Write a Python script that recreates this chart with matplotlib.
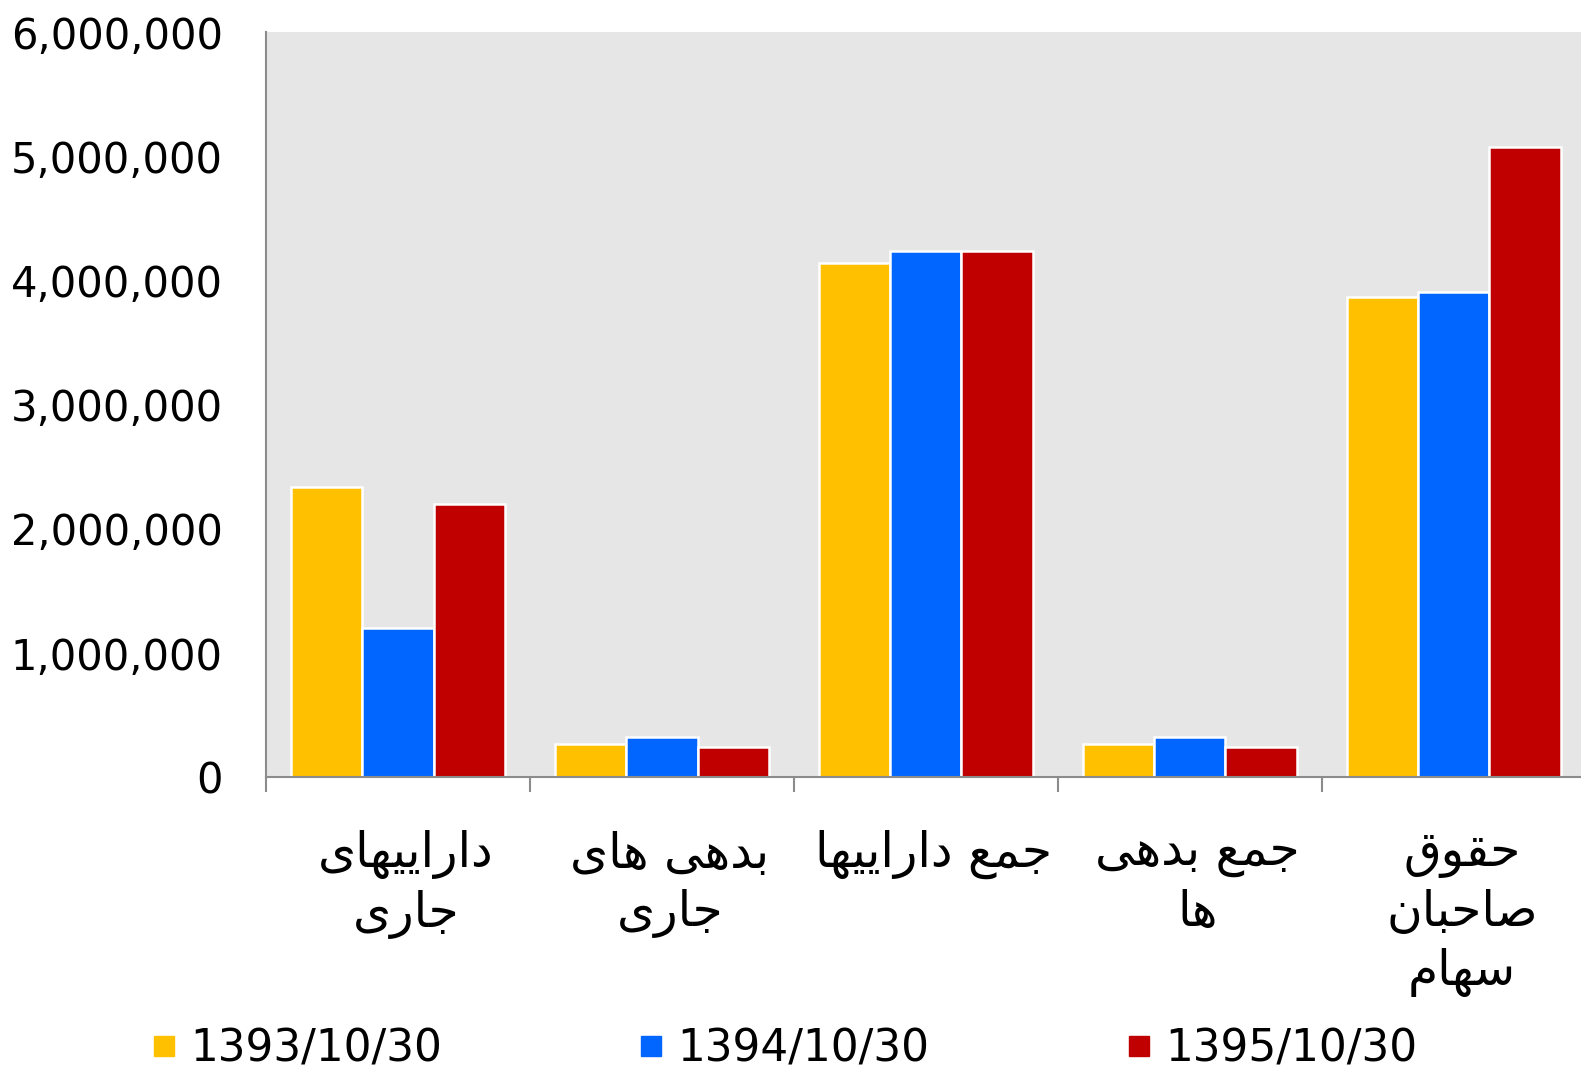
import matplotlib
matplotlib.use("Agg")
import matplotlib.pyplot as plt
from matplotlib.lines import Line2D
from matplotlib.ticker import FuncFormatter
from matplotlib.transforms import ScaledTranslation

# Data
categories = ["داراییهای\nجاری", "بدهی های\nجاری", "جمع داراییها", "جمع بدهی\nها", "حقوق\nصاحبان\nسهام"]
series_names = ["1393/10/30", "1394/10/30", "1395/10/30"]
v1393 = [2335000, 267000, 4138000, 267000, 3870000]
v1394 = [1205000, 324000, 4237000, 324000, 3905000]
v1395 = [2200000, 242000, 4237000, 242000, 5073000]
colors = ["#FFC000", "#0066FF", "#C00000"]

# minimal Arabic/Persian shaping (matplotlib draws glyphs left to right, no joining)
FORMS = {
    'ا': ('\uFE8D', '\uFE8E', None, None),
    'ب': ('\uFE8F', '\uFE90', '\uFE91', '\uFE92'),
    'ج': ('\uFE9D', '\uFE9E', '\uFE9F', '\uFEA0'),
    'ح': ('\uFEA1', '\uFEA2', '\uFEA3', '\uFEA4'),
    'د': ('\uFEA9', '\uFEAA', None, None),
    'ر': ('\uFEAD', '\uFEAE', None, None),
    'س': ('\uFEB1', '\uFEB2', '\uFEB3', '\uFEB4'),
    'ص': ('\uFEB9', '\uFEBA', '\uFEBB', '\uFEBC'),
    'ع': ('\uFEC9', '\uFECA', '\uFECB', '\uFECC'),
    'ق': ('\uFED5', '\uFED6', '\uFED7', '\uFED8'),
    'م': ('\uFEE1', '\uFEE2', '\uFEE3', '\uFEE4'),
    'ن': ('\uFEE5', '\uFEE6', '\uFEE7', '\uFEE8'),
    'ه': ('\uFEE9', '\uFEEA', '\uFEEB', '\uFEEC'),
    'و': ('\uFEED', '\uFEEE', None, None),
    'ی': ('\uFBFC', '\uFBFD', '\uFBFE', '\uFBFF'),
}


def shape_line(line):
    out = []
    for i, c in enumerate(line):
        if c not in FORMS:
            out.append(c)
            continue
        prev = line[i - 1] if i > 0 else ''
        nxt = line[i + 1] if i + 1 < len(line) else ''
        jp = prev in FORMS and FORMS[prev][2] is not None
        jn = FORMS[c][2] is not None and nxt in FORMS
        iso, fin, ini, med = FORMS[c]
        if jp and jn:
            out.append(med)
        elif jp:
            out.append(fin)
        elif jn:
            out.append(ini)
        else:
            out.append(iso)
    return ''.join(reversed(out))


def shape(text):
    return "\n".join(shape_line(l) for l in text.split("\n"))


plt.rcParams['font.family'] = ['DejaVu Sans']

fig = plt.figure(figsize=(15.81, 10.74), dpi=100)
ax = fig.add_axes([0.1682, 0.2763, 0.8348, 0.6937])
ax.set_facecolor("#E6E6E6")

x = list(range(len(categories)))
w = 0.27
for k, (vals, col, name) in enumerate(zip([v1393, v1394, v1395], colors, series_names)):
    ax.bar([xi + (k - 1) * w for xi in x], vals, width=w, color=col,
           edgecolor="white", linewidth=1.8, label=name, zorder=2)

ax.set_xlim(-0.5, 4.5)
ax.set_ylim(0, 6000000)
ax.set_yticks(range(0, 6000001, 1000000))
ax.yaxis.set_major_formatter(FuncFormatter(lambda v, p: f"{int(v):,}"))
ax.tick_params(axis='y', length=0, pad=31, labelsize=30)

ax.set_xticks([i - 0.5 for i in range(6)])
ax.set_xticklabels([""] * 6)
ax.tick_params(axis='x', which='major', length=11, width=1.5, color="#8C8C8C")
ax.set_xticks(x, [shape(c) for c in categories], minor=True)
ax.tick_params(axis='x', which='minor', length=0, pad=38, labelsize=35)
shift = ScaledTranslation(8 / 100, 0, fig.dpi_scale_trans)
for lab in ax.get_xticklabels(minor=True):
    lab.set_linespacing(1.27)
    lab.set_transform(lab.get_transform() + shift)

for s in ["top", "right"]:
    ax.spines[s].set_visible(False)
for s in ["left", "bottom"]:
    ax.spines[s].set_color("#8C8C8C")
    ax.spines[s].set_linewidth(1.5)

handles = [Line2D([], [], marker='s', linestyle='none', markersize=15,
                  markerfacecolor=c, markeredgecolor=c) for c in colors]
fig.legend(handles, series_names, loc='center left', bbox_to_anchor=(0.0968, 0.0235),
           ncol=3, frameon=False, fontsize=31.5, handlelength=0.5, handletextpad=0.35,
           columnspacing=4.53, borderpad=0, borderaxespad=0)

fig.savefig("out.png", dpi=100)
